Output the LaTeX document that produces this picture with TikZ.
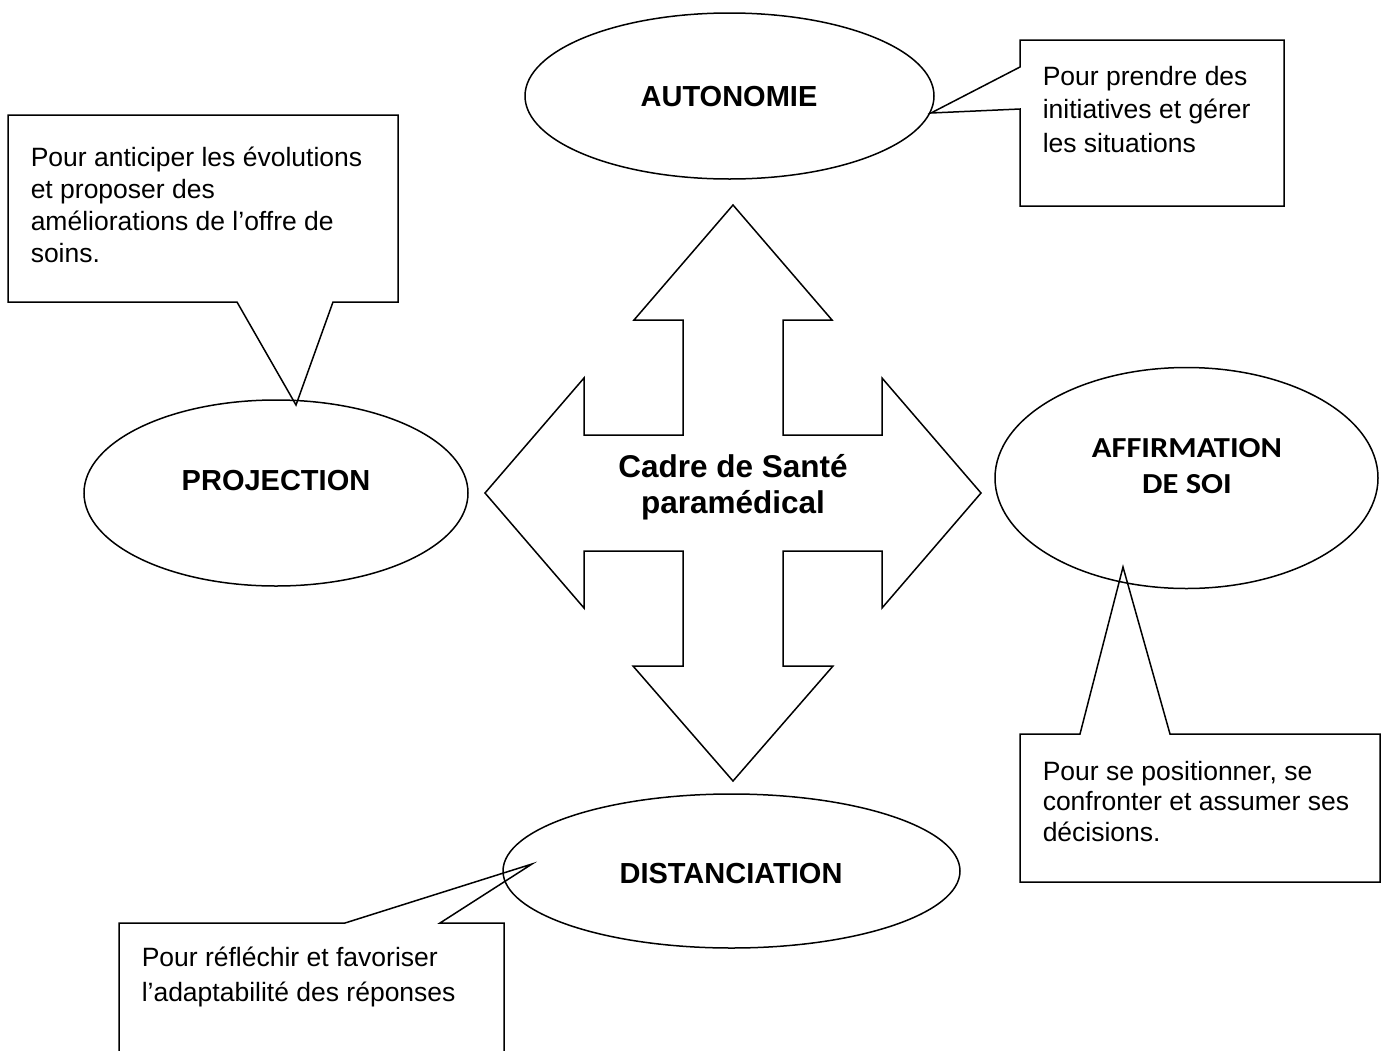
\documentclass[tikz,border=0pt]{standalone}
\usepackage{fontspec}
\setmainfont{Liberation Sans}
\newfontfamily\calibrifont[FakeStretch=1.12]{Carlito}
\usetikzlibrary{shapes.geometric}
\begin{document}
\begin{tikzpicture}[x=1pt,y=-1pt, line width=1.5pt, line join=miter,
  oval/.style={draw, ellipse, inner sep=0pt},
  bubble/.style={draw},
  note/.style={anchor=base west, align=left, inner sep=0pt},
  lbl/.style={anchor=base, inner sep=0pt, font=\fontsize{29}{34}\selectfont\bfseries}]
\clip (0,0) rectangle (1387,1050);
\fill[white] (0,0) rectangle (1387,1050);

% ellipses
\node[oval, minimum width=409pt, minimum height=166pt] (autoEll) at (729.5,96) {};
\node[oval, minimum width=384pt, minimum height=186pt] (projEll) at (276,493) {};
\node[oval, minimum width=383pt, minimum height=221pt] (affEll) at (1186.5,478) {};
\node[oval, minimum width=457pt, minimum height=154pt] (distEll) at (731.5,871) {};

% labels (base anchor = baseline of the last line)
\node[lbl] (autoTxt) at (729,106) {AUTONOMIE};
\node[lbl] (projTxt) at (276,490) {PROJECTION};
\node[lbl] (distTxt) at (731,883) {DISTANCIATION};
\node[anchor=base, inner sep=0pt, align=center,
      font=\calibrifont\fontsize{29}{36}\selectfont\bfseries] (affTxt) at (1187,493) {AFFIRMATION\\DE SOI};

% central four-way arrow
\draw (733,205) -- (832,320) -- (783,320) -- (783,435) -- (882,435) -- (882,378)
  -- (981,493) -- (882,608) -- (882,551) -- (783,551) -- (783,666) -- (833,666)
  -- (733,781) -- (633,666) -- (683,666) -- (683,551) -- (584,551) -- (584,608)
  -- (485,493) -- (584,378) -- (584,435) -- (683,435) -- (683,320) -- (634,320) -- cycle;
\node[anchor=base, inner sep=0pt, align=center,
      font=\fontsize{31.5}{36}\selectfont\bfseries] (center) at (733,513) {Cadre de Santé\\paramédical};

% callout: projection
\coordinate (tlTip) at (296,405);
\draw[bubble] (8,115) -- (398,115) -- (398,302) -- (333,302) -- (tlTip) -- (237,302) -- (8,302) -- cycle;
\node[note, font=\fontsize{26.5}{32}\selectfont] (tlTxt) at (30,262)
  {Pour anticiper les évolutions\\et proposer des\\améliorations de l’offre de\\soins.};

% callout: autonomie
\coordinate (trTip) at (931,113);
\draw[bubble] (1020,40) -- (1284,40) -- (1284,206) -- (1020,206) -- (1020,109) -- (trTip) -- (1020,67) -- cycle;
\node[note, font=\fontsize{26.5}{33.5}\selectfont] (trTxt) at (1042,152)
  {Pour prendre des\\initiatives et gérer\\les situations};

% callout: affirmation
\coordinate (afTip) at (1123,567);
\draw[bubble] (1020,734) -- (1080,734) -- (afTip) -- (1170,734) -- (1380,734) -- (1380,882) -- (1020,882) -- cycle;
\node[note, font=\fontsize{26.5}{30.5}\selectfont] (afTxt) at (1042,841)
  {Pour se positionner, se\\confronter et assumer ses\\décisions.};

% callout: distanciation
\coordinate (blTip) at (532,864);
\draw[bubble] (119,1055) -- (119,923) -- (345,923) -- (blTip) -- (440,923) -- (504,923) -- (504,1055);
\node[note, font=\fontsize{26.5}{35}\selectfont] (blTxt) at (141,1001)
  {Pour réfléchir et favoriser\\l’adaptabilité des réponses};
\end{tikzpicture}
\end{document}
